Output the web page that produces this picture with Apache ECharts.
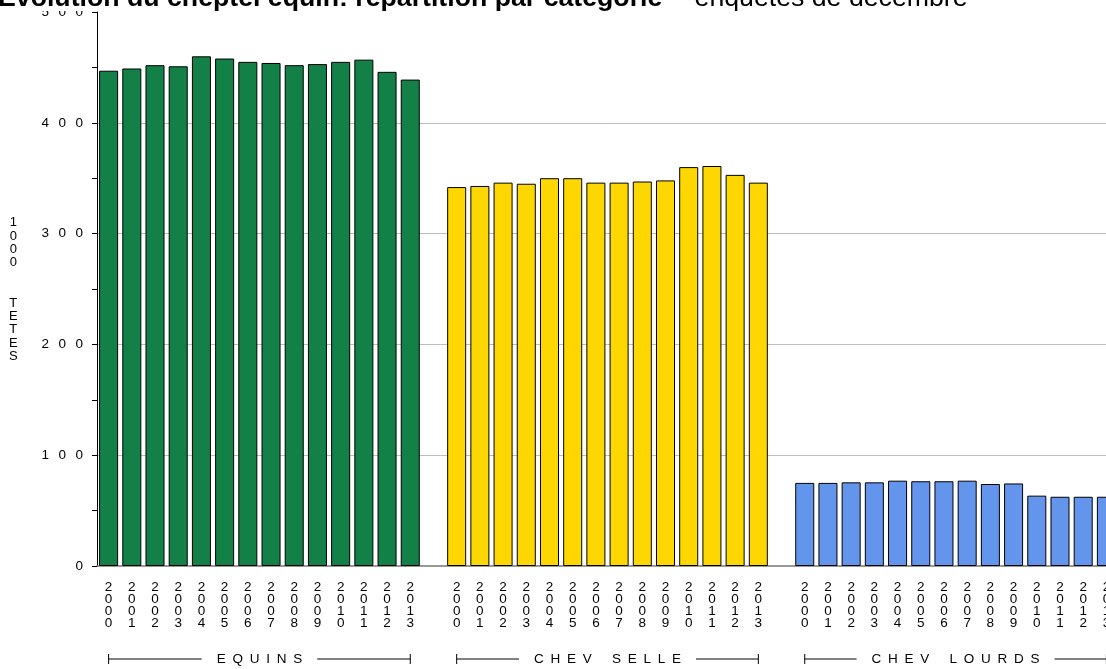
<!DOCTYPE html>
<html><head><meta charset="utf-8">
<script src="https://cdn.jsdelivr.net/npm/echarts@6/dist/echarts.min.js"></script>
<style>html,body{margin:0;padding:0;background:#fff;overflow:hidden}#c{width:1118px;height:669px}</style>
</head><body><div id="c"></div>
<script>
const years = ['2000','2001','2002','2003','2004','2005','2006','2007','2008','2009','2010','2011','2012','2013'];
const groups = ['EQUINS','CHEV SELLE','CHEV LOURDS'];
const equins = [447, 449, 452, 451, 460, 458, 455, 454, 452, 453, 455, 457, 446, 439];
const chevSelle = [342, 343, 346, 345, 350, 350, 346, 346, 347, 348, 360, 361, 353, 346];
const chevLourds = [75, 75, 75.5, 75.5, 77, 76.5, 76.5, 77, 74, 74.5, 63.5, 62.5, 62.5, 62.5];
const colors = ['#138047', '#FFD700', '#6495ED'];
const yTicks = [0, 100, 200, 300, 400, 500];
const yName = '1000 TETES';
const titleMain = 'Évolution du cheptel équin: répartition par catégorie';
const titleSub = '– enquêtes de décembre';

const seriesVals = [equins, chevSelle, chevLourds];
const cats = [];
groups.forEach((g, gi) => {
  years.forEach(y => cats.push(g + '|' + y));
  if (gi < groups.length - 1) cats.push('gap' + gi);
});
const SP = '\u2002\u2009';
const EN = '\u2002';
const spaced = s => s.split(' ').map(w => w.split('').join(EN)).join(EN + EN + EN);

const series = groups.map((g, gi) => ({
  type: 'bar', name: g, stack: 'all',
  barCategoryGap: '18%',
  itemStyle: { color: colors[gi], borderColor: '#000', borderWidth: 1 },
  data: cats.map(c => {
    if (c.indexOf(g + '|') === 0) return seriesVals[gi][years.indexOf(c.split('|')[1])];
    return '-';
  })
}));

const chart = echarts.init(document.getElementById('c'));
chart.setOption({
  animation: false,
  backgroundColor: '#fff',
  title: {
    left: -2, top: -14.5, padding: 0, z: 60,
    text: '{b|' + titleMain + '}  {n|' + titleSub + '}',
    textStyle: {
      rich: {
        b: { fontFamily: 'Liberation Sans', fontWeight: 'bold', fontSize: 26.7, color: '#000' },
        n: { fontFamily: 'Liberation Sans', fontWeight: 'normal', fontSize: 26.7, color: '#000' }
      }
    }
  },
  grid: { left: 97, right: 0, top: 12, bottom: 103, containLabel: false },
  xAxis: {
    type: 'category', data: cats,
    axisLine: { lineStyle: { color: '#777', width: 1.5 } },
    axisTick: { show: false },
    axisLabel: {
      interval: 0, margin: 15, fontFamily: 'Liberation Sans', fontSize: 13.5, lineHeight: 12, color: '#000',
      formatter: v => v.indexOf('|') < 0 ? '' : v.split('|')[1].split('').join('\n')
    }
  },
  yAxis: {
    type: 'value', min: yTicks[0], max: yTicks[yTicks.length - 1], interval: 100,
    axisLine: { show: true, lineStyle: { color: '#000', width: 1 } },
    axisTick: { show: true, length: 5, lineStyle: { color: '#000' } },
    minorTick: { show: true, splitNumber: 2, length: 5, lineStyle: { color: '#000' } },
    axisLabel: { margin: 14, fontFamily: 'Liberation Sans', fontSize: 13.5, color: '#000',
      formatter: v => String(v).split('').join(SP) },
    splitLine: { show: true, lineStyle: { width: 1, color: ['rgba(0,0,0,0)', '#bdbdbd', '#bdbdbd', '#bdbdbd', '#bdbdbd', 'rgba(0,0,0,0)'] } }
  },
  graphic: [
    { id: 'mask', type: 'rect', left: 0, top: 0, z: 50, shape: { width: 1118, height: 11 }, style: { fill: '#fff' } },
    { id: 'yname', type: 'text', left: 9, top: 216, z: 10,
      style: { text: yName.replace(' ', '  ').split('').join('\n'), font: '13px "Liberation Sans"', lineHeight: 13.4, fill: '#000', textAlign: 'center' } }
  ],
  series: series
});

const yB = 659;
const extra = [];
groups.forEach((g, gi) => {
  const i0 = gi * 15, i1 = gi * 15 + 13;
  const x0 = chart.convertToPixel({ xAxisIndex: 0 }, i0);
  const x1 = chart.convertToPixel({ xAxisIndex: 0 }, i1);
  const mid = (x0 + x1) / 2;
  extra.push({ id: 'bl' + gi, type: 'line', z: 10, shape: { x1: x0, y1: yB, x2: x1, y2: yB }, style: { stroke: '#000', lineWidth: 1 } });
  extra.push({ id: 'bt0' + gi, type: 'line', z: 10, shape: { x1: x0, y1: yB - 5, x2: x0, y2: yB + 5 }, style: { stroke: '#000', lineWidth: 1 } });
  extra.push({ id: 'bt1' + gi, type: 'line', z: 10, shape: { x1: x1, y1: yB - 5, x2: x1, y2: yB + 5 }, style: { stroke: '#000', lineWidth: 1 } });
  extra.push({ id: 'bx' + gi, type: 'text', z: 11, x: mid, y: yB,
    style: { text: spaced(g), font: '13.5px "Liberation Sans"', fill: '#000', align: 'center', verticalAlign: 'middle',
      backgroundColor: '#fff', padding: [0, 15] } });
});
chart.setOption({ graphic: extra });
</script>
</body></html>
